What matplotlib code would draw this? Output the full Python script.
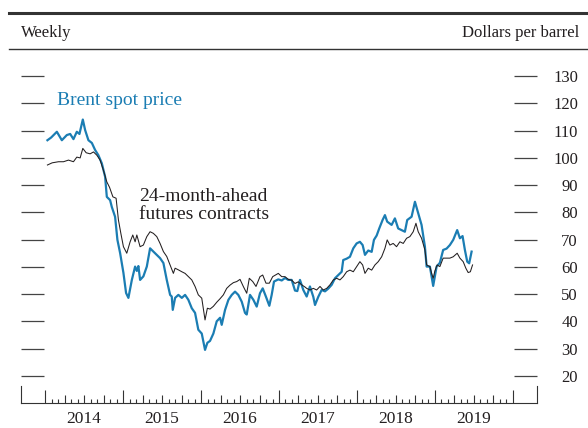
import numpy as np
import matplotlib
matplotlib.use("Agg")
import matplotlib.pyplot as plt
from matplotlib.lines import Line2D
from matplotlib.transforms import blended_transform_factory

plt.rcParams["font.family"] = ["Liberation Serif", "DejaVu Serif"]

# weekly data, time in decimal years
brent_t = [2014.029, 2014.077, 2014.150, 2014.214, 2014.278, 2014.321, 2014.363, 2014.406,
           2014.440, 2014.483, 2014.513, 2014.555, 2014.599, 2014.641, 2014.683, 2014.727,
           2014.769, 2014.791, 2014.833, 2014.855, 2014.897, 2014.927, 2014.962, 2015.004,
           2015.038, 2015.068, 2015.112, 2015.154, 2015.176, 2015.196, 2015.218, 2015.260,
           2015.304, 2015.346, 2015.388, 2015.432, 2015.474, 2015.517, 2015.560, 2015.603,
           2015.624, 2015.637, 2015.667, 2015.709, 2015.753, 2015.795, 2015.837, 2015.881,
           2015.923, 2015.965, 2016.009, 2016.051, 2016.081, 2016.115, 2016.158, 2016.201,
           2016.244, 2016.265, 2016.308, 2016.351, 2016.394, 2016.436, 2016.478, 2016.522,
           2016.564, 2016.586, 2016.628, 2016.671, 2016.714, 2016.756, 2016.791, 2016.833,
           2016.876, 2016.906, 2016.936, 2016.991, 2017.035, 2017.077, 2017.119, 2017.163,
           2017.205, 2017.235, 2017.269, 2017.312, 2017.355, 2017.397, 2017.440, 2017.462,
           2017.504, 2017.547, 2017.590, 2017.632, 2017.676, 2017.718, 2017.760, 2017.804,
           2017.824, 2017.868, 2017.910, 2017.953, 2017.996, 2018.038, 2018.073, 2018.103,
           2018.145, 2018.189, 2018.218, 2018.253, 2018.286, 2018.329, 2018.359, 2018.388,
           2018.445, 2018.487, 2018.529, 2018.573, 2018.615, 2018.645, 2018.701, 2018.744,
           2018.786, 2018.829, 2018.872, 2018.894, 2018.936, 2018.958, 2018.978, 2019.000,
           2019.022, 2019.064, 2019.106, 2019.150, 2019.192, 2019.235, 2019.286, 2019.321,
           2019.355, 2019.385, 2019.415, 2019.440, 2019.471]
brent = [106.5, 107.5, 109.6, 106.5, 108.4, 108.8, 106.9, 109.6,
         108.8, 114.1, 110.2, 106.5, 105.5, 102.9, 101.0, 98.0,
         93.1, 85.7, 84.5, 82.0, 78.4, 69.9, 65.0, 57.8,
         50.4, 48.6, 55.2, 60.1, 58.5, 60.3, 55.2, 56.5,
         60.1, 66.8, 65.6, 64.4, 63.2, 61.4, 55.2, 49.7,
         49.1, 44.2, 48.6, 49.7, 48.6, 49.7, 47.9, 44.8,
         43.1, 36.9, 35.5, 29.5, 32.1, 32.8, 35.5, 40.0,
         41.3, 38.7, 44.2, 47.9, 49.7, 50.9, 49.7, 47.2,
         43.1, 42.5, 49.7, 47.9, 45.4, 50.3, 52.1, 49.0,
         45.7, 49.7, 54.6, 55.4, 55.0, 55.9, 55.2, 55.2,
         51.3, 51.1, 55.2, 51.5, 49.1, 52.8, 49.0, 46.0,
         49.0, 51.5, 51.0, 52.0, 53.4, 55.8, 57.0, 58.2,
         62.5, 63.0, 63.7, 66.8, 68.6, 69.2, 68.0, 64.4,
         66.0, 65.5, 69.9, 71.5, 74.1, 77.2, 79.0, 76.6,
         75.4, 77.8, 74.1, 73.5, 72.9, 77.2, 78.4, 83.9,
         79.7, 75.4, 67.4, 60.1, 60.1, 56.4, 53.0, 56.5,
         60.1, 61.5, 66.2, 66.7, 68.0, 69.9, 73.5, 70.5,
         71.3, 66.2, 61.9, 61.3, 65.6]

fut_t = [2014.029, 2014.090, 2014.171, 2014.235, 2014.299, 2014.363, 2014.406, 2014.449,
         2014.483, 2014.526, 2014.577, 2014.620, 2014.663, 2014.705, 2014.747, 2014.791,
         2014.826, 2014.869, 2014.910, 2014.940, 2014.971, 2015.004, 2015.047, 2015.090,
         2015.124, 2015.154, 2015.176, 2015.218, 2015.260, 2015.304, 2015.346, 2015.388,
         2015.432, 2015.474, 2015.517, 2015.560, 2015.603, 2015.645, 2015.667, 2015.709,
         2015.753, 2015.795, 2015.837, 2015.881, 2015.923, 2015.965, 2016.009, 2016.051,
         2016.081, 2016.115, 2016.158, 2016.201, 2016.244, 2016.286, 2016.329, 2016.372,
         2016.415, 2016.458, 2016.500, 2016.542, 2016.586, 2016.619, 2016.663, 2016.705,
         2016.756, 2016.791, 2016.833, 2016.876, 2016.919, 2016.991, 2017.035, 2017.077,
         2017.119, 2017.163, 2017.205, 2017.248, 2017.291, 2017.333, 2017.355, 2017.397,
         2017.440, 2017.483, 2017.526, 2017.568, 2017.612, 2017.654, 2017.697, 2017.740,
         2017.782, 2017.824, 2017.868, 2017.910, 2017.953, 2017.996, 2018.038, 2018.073,
         2018.103, 2018.145, 2018.189, 2018.231, 2018.273, 2018.317, 2018.359, 2018.388,
         2018.423, 2018.465, 2018.508, 2018.551, 2018.594, 2018.637, 2018.679, 2018.722,
         2018.757, 2018.786, 2018.829, 2018.872, 2018.894, 2018.936, 2018.958, 2018.978,
         2019.000, 2019.029, 2019.064, 2019.106, 2019.150, 2019.192, 2019.235, 2019.286,
         2019.321, 2019.363, 2019.397, 2019.427, 2019.455, 2019.483]
futures = [97.4, 98.2, 98.6, 98.6, 99.2, 98.6, 100.3, 100.0,
           103.5, 101.9, 101.5, 102.2, 101.0, 99.2, 95.5, 91.2,
           89.2, 85.7, 85.2, 77.2, 72.3, 67.4, 65.0, 69.2,
           71.7, 69.2, 71.7, 67.4, 68.0, 71.1, 72.9, 72.3,
           71.1, 68.6, 65.6, 63.8, 60.7, 57.6, 59.5, 58.9,
           58.2, 57.6, 56.4, 55.2, 52.8, 49.7, 48.5, 40.5,
           44.8, 44.5, 45.5, 47.0, 48.3, 49.7, 52.1, 53.3,
           54.2, 54.6, 55.4, 52.8, 50.3, 55.8, 54.6, 52.8,
           56.4, 57.0, 54.0, 54.0, 56.4, 57.6, 56.4, 56.4,
           55.4, 55.1, 53.9, 54.5, 53.4, 52.6, 52.1, 51.5,
           52.1, 51.5, 52.8, 51.5, 52.1, 53.4, 55.2, 55.8,
           55.2, 56.4, 58.2, 58.8, 58.2, 60.1, 61.9, 60.7,
           57.6, 59.5, 58.8, 60.7, 61.9, 63.7, 66.8, 69.9,
           68.0, 68.6, 67.4, 69.2, 68.6, 70.5, 71.1, 72.9,
           76.0, 72.9, 70.5, 66.2, 60.7, 60.1, 57.6, 55.8,
           58.5, 60.7, 60.1, 63.2, 63.2, 63.2, 63.7, 65.0,
           63.2, 61.9, 59.5, 57.9, 58.2, 60.7]

years = [2014, 2015, 2016, 2017, 2018, 2019]
y_ticks = list(range(20, 140, 10))

BLUE = "#1b7db3"
INK = "#231f20"

fig = plt.figure(figsize=(5.88, 4.28), dpi=100)
ax = fig.add_axes([21 / 588, 1 - 403 / 428, 516 / 588, 354 / 428])

ax.plot(brent_t, brent, color=BLUE, linewidth=1.6, zorder=2)
ax.plot(fut_t, futures, color=INK, linewidth=0.75, zorder=3)

ax.set_xlim(2013.69, 2020.31)
ax.set_ylim(10, 140)

# y ticks: short inward dashes on both sides, labels on the right
ax.set_yticks(y_ticks)
ax.tick_params(axis="y", left=True, right=True, labelleft=False, labelright=True,
               direction="in", length=16.8, width=0.9, color="#444444",
               pad=29.5, labelsize=12, labelcolor=INK)
for lab in ax.get_yticklabels(which="both"):
    lab.set_horizontalalignment("right")

# x ticks: years tall, quarters medium, months short
ax.set_xticks(list(range(2014, 2021)))
ax.set_xticklabels([])
months = [y + m / 12 for y in range(2014, 2020) for m in range(1, 12) if m not in (3, 6, 9)]
ax.set_xticks(months, minor=True)
ax.tick_params(axis="x", which="major", direction="in", length=9.5, width=0.8, color="#333333")
ax.tick_params(axis="x", which="minor", direction="in", length=3.2, width=0.8, color="#333333")
sec = ax.secondary_xaxis("bottom")
sec.set_xticks([y + q / 4 for y in range(2014, 2020) for q in (1, 2, 3)])
sec.set_xticklabels([])
sec.tick_params(axis="x", direction="in", length=5.5, width=0.8, color="#333333")
sec.spines["bottom"].set_visible(False)

ax.spines["top"].set_visible(False)
for s in ["left", "right", "bottom"]:
    ax.spines[s].set_color("#333333")
    ax.spines[s].set_linewidth(0.8)
ax.spines["left"].set_bounds(10, 16.3)
ax.spines["right"].set_bounds(10, 16.3)

trans = blended_transform_factory(ax.transData, ax.transAxes)
for y in years:
    ax.text(y + 0.5, -0.045, str(y), transform=trans, ha="center", va="center",
            fontsize=12.5, color=INK)

# series labels
ax.text(2014.154, 121.2, "Brent spot price", color=BLUE, fontsize=14,
        ha="left", va="center")
ax.text(2015.21, 82.5, "24-month-ahead\nfutures contracts", color=INK, fontsize=14,
        ha="left", va="center", linespacing=1.05)

# header rules and texts
fig.add_artist(Line2D([9 / 588, 1.0], [1 - 13 / 428] * 2, color="#333333", linewidth=2.2))
fig.add_artist(Line2D([9 / 588, 1.0], [1 - 49 / 428] * 2, color="#333333", linewidth=1.0))
fig.text(21 / 588, 1 - 33 / 428, "Weekly", fontsize=12, color=INK, ha="left", va="center")
fig.text(579 / 588, 1 - 33 / 428, "Dollars per barrel", fontsize=12, color=INK,
         ha="right", va="center")

fig.savefig("out.png", dpi=100)
